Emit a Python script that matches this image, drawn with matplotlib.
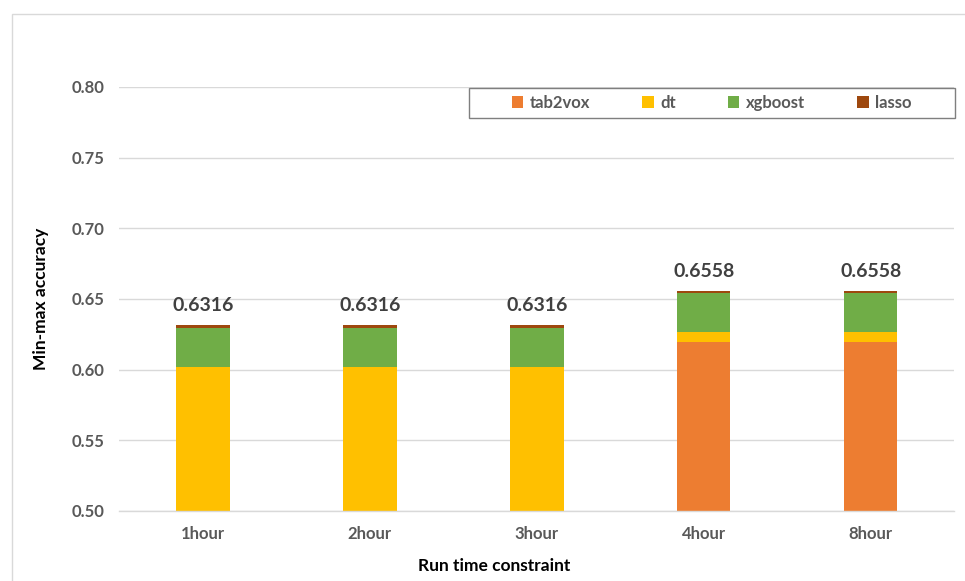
import numpy as np
import matplotlib.pyplot as plt
from matplotlib.patches import Rectangle

plt.rcParams['font.family'] = ['Lato', 'DejaVu Sans']

# Run-time budgets and the per-model share of the best min-max accuracy
categories = ["1hour", "2hour", "3hour", "4hour", "8hour"]
models = ["tab2vox", "dt", "xgboost", "lasso"]
tab2vox = [0.0, 0.0, 0.0, 0.6198, 0.6198]
dt = [0.6017, 0.6017, 0.6017, 0.0067, 0.0067]
xgboost = [0.0278, 0.0278, 0.0278, 0.0279, 0.0279]
lasso = [0.0021, 0.0021, 0.0021, 0.0014, 0.0014]
totals = [0.6316, 0.6316, 0.6316, 0.6558, 0.6558]

colors = ["#ED7D31", "#FFC000", "#70AD47", "#9E480E"]

fig = plt.figure(figsize=(9.65, 5.81), dpi=100)
ax = fig.add_axes([0.1238, 0.1205, 0.865, 0.7298])

# light frame around the chart area
fig.patches.append(Rectangle((12 / 965, -0.1), 1.0, 1 - 14 / 581 + 0.1,
                             transform=fig.transFigure, fill=False,
                             edgecolor="#D9D9D9", linewidth=1.0))

x = np.arange(len(categories))
bottom = np.zeros(len(categories))
for name, vals, c in zip(models, [tab2vox, dt, xgboost, lasso], colors):
    ax.bar(x, vals, width=0.32, bottom=bottom, color=c, label=name, zorder=2)
    bottom += np.array(vals)

for xi, t in zip(x, totals):
    ax.text(xi, t + 0.0075, "{:.4f}".format(t), ha="center", va="bottom",
            fontsize=14, fontweight="bold", color="#404040")

ax.set_xlim(-0.5, len(categories) - 0.5)
ax.set_ylim(0.5, 0.8)
ax.set_yticks(np.arange(0.5, 0.801, 0.05))
ax.set_yticklabels(["{:.2f}".format(v) for v in np.arange(0.5, 0.801, 0.05)])
ax.set_xticks(x)
ax.set_xticklabels(categories)
ax.tick_params(axis="both", length=0, labelsize=12, colors="#595959", pad=11)
for lab in ax.get_xticklabels() + ax.get_yticklabels():
    lab.set_fontweight("bold")

ax.grid(axis="y", color="#D9D9D9", linewidth=1.0, zorder=0)
ax.set_axisbelow(True)
for s in ["top", "right", "left"]:
    ax.spines[s].set_visible(False)
ax.spines["bottom"].set_color("#D9D9D9")
ax.spines["bottom"].set_linewidth(1.0)

ax.set_ylabel("Min-max accuracy", fontsize=12.5, fontweight="bold", labelpad=16)
ax.set_xlabel("Run time constraint", fontsize=12.5, fontweight="bold", labelpad=12)
ax.xaxis.set_label_coords(0.4485, -0.11)

# legend box drawn separately so the entries can sit centred inside it
ax.add_patch(Rectangle((0.4186, 0.9269), 0.582, 0.0708, transform=ax.transAxes,
                       fill=True, facecolor="white", edgecolor="#7F7F7F",
                       linewidth=1.0, clip_on=False, zorder=3))
leg = ax.legend(loc="center", bbox_to_anchor=(0.7096, 0.9623),
                ncol=4, frameon=False, fontsize=12, handlelength=0.7,
                handleheight=0.7, handletextpad=0.4, borderpad=0,
                columnspacing=3.1)
leg.set_zorder(4)
for t in leg.get_texts():
    t.set_color("#595959")
    t.set_fontweight("bold")

fig.savefig("out.png", dpi=100)
